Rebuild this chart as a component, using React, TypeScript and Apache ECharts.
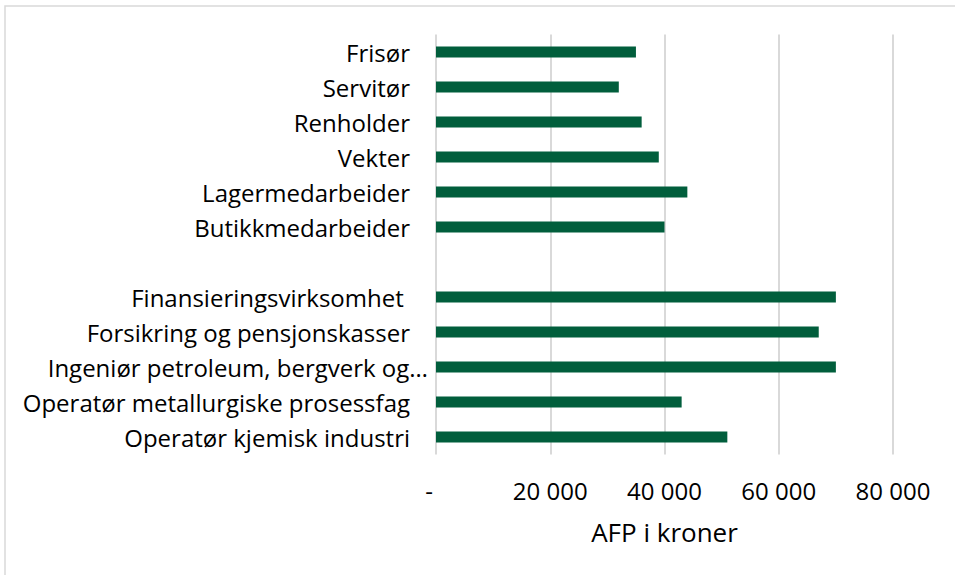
import React, { useEffect, useRef } from "react";
import * as echarts from "echarts";

const categories = [
  "Frisør",
  "Servitør",
  "Renholder",
  "Vekter",
  "Lagermedarbeider",
  "Butikkmedarbeider",
  "",
  "Finansieringsvirksomhet ",
  "Forsikring og pensjonskasser",
  "Ingeniør petroleum, bergverk og…",
  "Operatør metallurgiske prosessfag",
  "Operatør kjemisk industri",
];

const afpValues: (number | null)[] = [
  35000, 32000, 36000, 39000, 44000, 40000, null, 70000, 67000, 70000, 43000, 51000,
];

const xMin = 0;
const xMax = 80000;
const xInterval = 20000;
const axisName = "AFP i kroner";

const FONT = "'Open Sans', 'Noto Sans', sans-serif";

export default function App() {
  const ref = useRef<HTMLDivElement>(null);
  useEffect(() => {
    if (!ref.current) return;
    const chart = echarts.init(ref.current, undefined, { renderer: "svg" });
    const yData = categories.map((c) =>
      c.endsWith("…") ? { value: c, textStyle: { padding: [0, -18, 0, 0] } } : c
    );
    chart.setOption({
      animation: false,
      backgroundColor: "#ffffff",
      textStyle: { fontFamily: FONT },
      graphic: [
        {
          type: "rect",
          shape: { x: 5, y: 6, width: 1200, height: 1200 },
          style: { fill: "none", stroke: "#d9d9d9", lineWidth: 1.5 },
          silent: true,
        },
      ],
      grid: { left: 436, right: 62, top: 34.5, bottom: 120.5, containLabel: false },
      xAxis: {
        type: "value",
        min: xMin,
        max: xMax,
        interval: xInterval,
        name: axisName,
        nameLocation: "middle",
        nameGap: 64,
        nameTextStyle: { fontSize: 26, color: "#000000", fontFamily: FONT },
        axisLine: { show: false },
        axisTick: { show: false },
        splitLine: { show: true, lineStyle: { color: "#d9d9d9", width: 2 } },
        axisLabel: {
          margin: 24,
          fontSize: 24,
          color: "#000000",
          fontFamily: FONT,
          formatter: (v: number) =>
            v === 0 ? "{z|-}" : String(v).replace(/\B(?=(\d{3})+(?!\d))/g, " "),
          rich: { z: { fontSize: 24, color: "#000000", padding: [0, 14, 0, 0], fontFamily: FONT } },
        },
      },
      yAxis: {
        type: "category",
        data: yData,
        inverse: true,
        axisLine: { show: false },
        axisTick: { show: false },
        splitLine: { show: false },
        axisLabel: {
          margin: 26,
          fontSize: 24,
          color: "#000000",
          fontFamily: FONT,
          interval: 0,
        },
      },
      series: [
        {
          type: "bar",
          data: afpValues,
          barWidth: 11,
          itemStyle: { color: "#015e3c" },
        },
      ],
    });
    return () => chart.dispose();
  }, []);
  return (
    <div
      ref={ref}
      style={{ position: "fixed", left: 0, top: 0, width: 955, height: 575 }}
    />
  );
}
